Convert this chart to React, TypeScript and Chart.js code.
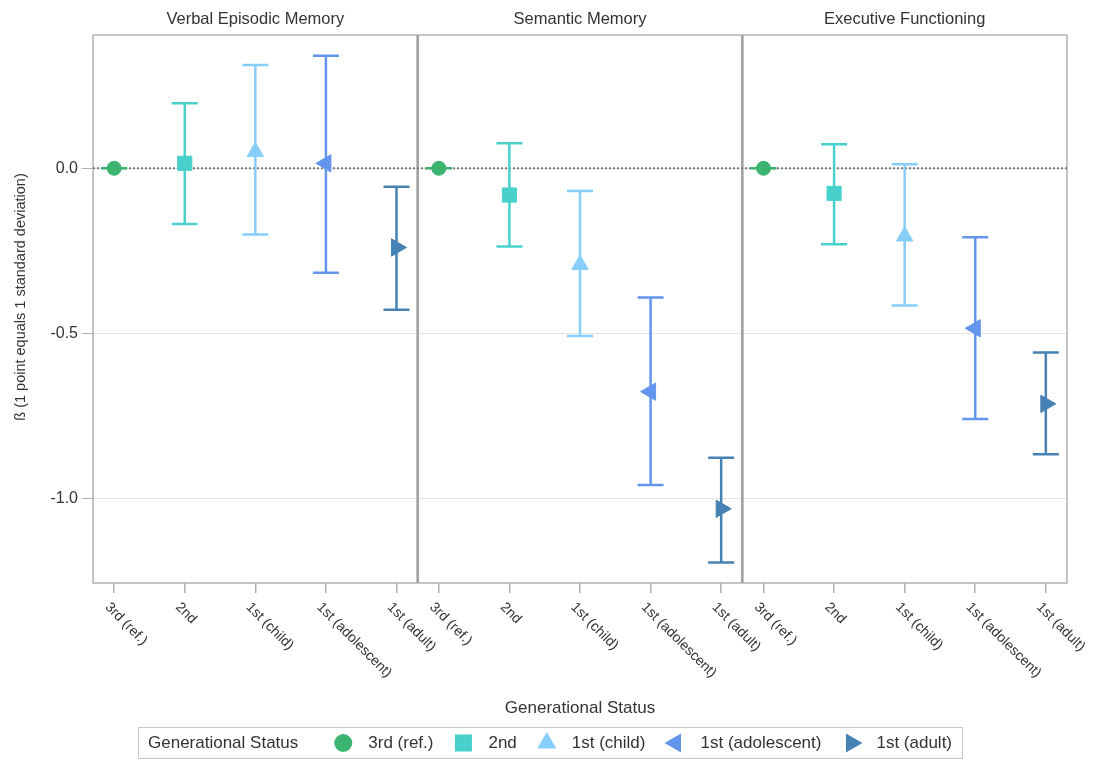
import React, { useEffect, useRef } from 'react';
import { Chart, registerables } from 'chart.js';

Chart.register(...registerables);

const FONT = "'Liberation Sans', Arial, Helvetica, sans-serif";

const panels = ['Verbal Episodic Memory', 'Semantic Memory', 'Executive Functioning'];
const categories = ['3rd (ref.)', '2nd', '1st (child)', '1st (adolescent)', '1st (adult)'];
const colors = ['#3CB371', '#48D1CC', '#87CEFA', '#6495ED', '#4682B4'];
const pointStyles = ['circle', 'rect', 'triangle', 'triangle', 'triangle'];
const pointRotations = [0, 0, 0, -90, 90];
const pointRadii = [7, 10, 9.5, 10, 10];

// Estimates, one value per panel (Verbal, Semantic, Executive)
const est3rd = [0, 0, 0];
const est2nd = [0.015, -0.081, -0.076];
const estChild = [0.05, -0.292, -0.206];
const estAdolescent = [0.015, -0.677, -0.485];
const estAdult = [-0.24, -1.032, -0.714];

// Lower confidence limits
const low3rd = [0, 0, 0];
const low2nd = [-0.169, -0.237, -0.23];
const lowChild = [-0.201, -0.508, -0.416];
const lowAdolescent = [-0.317, -0.96, -0.76];
const lowAdult = [-0.429, -1.195, -0.867];

// Upper confidence limits
const up3rd = [0, 0, 0];
const up2nd = [0.197, 0.076, 0.073];
const upChild = [0.313, -0.069, 0.012];
const upAdolescent = [0.341, -0.392, -0.209];
const upAdult = [-0.056, -0.877, -0.558];

const yTicks = [-1, -0.5, 0];
const yMin = -1.257;
const yMax = 0.404;

const estimates = [est3rd, est2nd, estChild, estAdolescent, estAdult];
const lowers = [low3rd, low2nd, lowChild, lowAdolescent, lowAdult];
const uppers = [up3rd, up2nd, upChild, upAdolescent, upAdult];

const PANEL_STEP = categories.length - 1 + 0.6;
const xPos = (ci: number, pi: number) => ci + pi * PANEL_STEP;
const xMin = -0.3;
const xMax = (panels.length - 1) * PANEL_STEP + categories.length - 1 + 0.3;
const separators = panels.slice(1).map((_, i) => (i + 1) * PANEL_STEP - 0.3);

function shapePath(ctx: CanvasRenderingContext2D, style: string, rot: number, cx: number, cy: number, r: number) {
  ctx.beginPath();
  if (style === 'circle') {
    ctx.arc(cx, cy, r, 0, Math.PI * 2);
  } else if (style === 'rect') {
    ctx.rect(cx - r, cy - r, 2 * r, 2 * r);
  } else {
    let rad = (rot * Math.PI) / 180;
    ctx.moveTo(cx + Math.sin(rad) * r, cy - Math.cos(rad) * r);
    rad += (2 * Math.PI) / 3;
    ctx.lineTo(cx + Math.sin(rad) * r, cy - Math.cos(rad) * r);
    rad += (2 * Math.PI) / 3;
    ctx.lineTo(cx + Math.sin(rad) * r, cy - Math.cos(rad) * r);
    ctx.closePath();
  }
}

const decor = {
  id: 'decor',
  beforeDatasetsDraw(chart: any) {
    const { ctx, chartArea: a, scales } = chart;
    const x = scales.x;
    const y = scales.y;
    ctx.save();
    // frame
    ctx.strokeStyle = '#aeb1b5';
    ctx.lineWidth = 1.5;
    ctx.strokeRect(a.left, a.top, a.right - a.left, a.bottom - a.top);
    // panel separators
    ctx.strokeStyle = '#9a9da2';
    ctx.lineWidth = 2.5;
    separators.forEach((s) => {
      const px = x.getPixelForValue(s);
      ctx.beginPath();
      ctx.moveTo(px, a.top);
      ctx.lineTo(px, a.bottom);
      ctx.stroke();
    });
    // reference line at 0
    const y0 = y.getPixelForValue(0);
    ctx.strokeStyle = '#7a7a7a';
    ctx.lineWidth = 2;
    ctx.setLineDash([2, 2]);
    ctx.beginPath();
    ctx.moveTo(a.left, y0);
    ctx.lineTo(a.right, y0);
    ctx.stroke();
    ctx.setLineDash([]);
    // error bars
    ctx.lineWidth = 2.5;
    const cap = 13;
    categories.forEach((_, ci) => {
      panels.forEach((__, pi) => {
        const px = x.getPixelForValue(xPos(ci, pi));
        const lo = y.getPixelForValue(lowers[ci][pi]);
        const hi = y.getPixelForValue(uppers[ci][pi]);
        ctx.strokeStyle = colors[ci];
        ctx.beginPath();
        ctx.moveTo(px, lo);
        ctx.lineTo(px, hi);
        ctx.moveTo(px - cap, lo);
        ctx.lineTo(px + cap, lo);
        ctx.moveTo(px - cap, hi);
        ctx.lineTo(px + cap, hi);
        ctx.stroke();
      });
    });
    ctx.restore();
  },
  afterDraw(chart: any) {
    const { ctx, chartArea: a, scales } = chart;
    const x = scales.x;
    ctx.save();
    ctx.fillStyle = '#333333';
    // panel titles
    ctx.font = `16.5px ${FONT}`;
    ctx.textAlign = 'center';
    ctx.textBaseline = 'middle';
    const bounds = [xMin, ...separators, xMax];
    panels.forEach((p, pi) => {
      const l = x.getPixelForValue(bounds[pi]);
      const r = x.getPixelForValue(bounds[pi + 1]);
      ctx.fillText(p, (l + r) / 2, 19);
    });
    // x tick labels, rotated
    ctx.font = `14px ${FONT}`;
    ctx.textAlign = 'left';
    ctx.textBaseline = 'middle';
    panels.forEach((_, pi) => {
      categories.forEach((c, ci) => {
        const px = x.getPixelForValue(xPos(ci, pi));
        ctx.save();
        ctx.translate(px - 7, a.bottom + 22);
        ctx.rotate(Math.PI / 4);
        ctx.fillText(c, 0, 0);
        ctx.restore();
      });
    });
    // x axis title
    ctx.font = `17px ${FONT}`;
    ctx.textAlign = 'center';
    ctx.fillText('Generational Status', (a.left + a.right) / 2, 708);
    // y axis title
    ctx.save();
    ctx.font = `14.5px ${FONT}`;
    ctx.translate(21, 297);
    ctx.rotate(-Math.PI / 2);
    ctx.textAlign = 'center';
    ctx.fillText('ß (1 point equals 1 standard deviation)', 0, 0);
    ctx.restore();
    // legend
    const ly = 743;
    ctx.font = `17px ${FONT}`;
    ctx.textAlign = 'left';
    ctx.textBaseline = 'middle';
    const boxLeft = 138;
    let cx = 148;
    ctx.fillText('Generational Status', cx, ly);
    cx += ctx.measureText('Generational Status').width + 45;
    let end = cx;
    const legendR = [9, 8.5, 11, 11, 11];
    categories.forEach((c, ci) => {
      ctx.fillStyle = colors[ci];
      shapePath(ctx, pointStyles[ci], pointRotations[ci], cx, ly, legendR[ci]);
      ctx.fill();
      ctx.fillStyle = '#333333';
      const tx = cx + 25;
      ctx.fillText(c, tx, ly);
      end = tx + ctx.measureText(c).width;
      cx = end + 30;
    });
    ctx.strokeStyle = '#c8c8c8';
    ctx.lineWidth = 1;
    ctx.strokeRect(boxLeft + 0.5, 727.5, end + 10 - boxLeft, 31);
    ctx.restore();
  },
};

export default function App() {
  const ref = useRef<HTMLCanvasElement | null>(null);
  useEffect(() => {
    if (!ref.current) return;
    const datasets = categories.map((c, ci) => ({
      label: c,
      data: panels.map((_, pi) => ({ x: xPos(ci, pi), y: estimates[ci][pi] })),
      backgroundColor: colors[ci],
      borderColor: colors[ci],
      borderWidth: 1,
      pointStyle: pointStyles[ci] as any,
      rotation: pointRotations[ci],
      pointRadius: pointRadii[ci],
      pointHoverRadius: pointRadii[ci],
      showLine: false,
    }));
    const chart = new Chart(ref.current, {
      type: 'scatter',
      data: { datasets },
      options: {
        responsive: false,
        animation: false,
        events: [],
        layout: { padding: { top: 35, right: 30, left: 0, bottom: 0 } },
        plugins: {
          legend: { display: false },
          tooltip: { enabled: false },
          title: { display: false },
        },
        scales: {
          x: {
            type: 'linear',
            min: xMin,
            max: xMax,
            border: { display: false },
            grid: {
              drawOnChartArea: false,
              drawTicks: true,
              tickLength: 10,
              tickColor: '#aeb1b5',
              lineWidth: 1.5,
            },
            ticks: { display: false, autoSkip: false },
            afterBuildTicks: (scale: any) => {
              const t: any[] = [];
              panels.forEach((_, pi) => categories.forEach((__, ci) => t.push({ value: xPos(ci, pi) })));
              scale.ticks = t;
            },
            afterFit: (scale: any) => {
              scale.height = 177;
            },
          },
          y: {
            type: 'linear',
            min: yMin,
            max: yMax,
            border: { display: false },
            grid: {
              color: '#e3e3e3',
              lineWidth: 1,
              drawTicks: true,
              tickLength: 11,
              tickColor: '#aeb1b5',
            },
            ticks: {
              padding: 4,
              color: '#333333',
              font: { family: FONT, size: 16 },
              callback: (v: any) => Number(v).toFixed(1),
            },
            afterBuildTicks: (scale: any) => {
              scale.ticks = yTicks.map((v) => ({ value: v }));
            },
            afterFit: (scale: any) => {
              scale.width = 93;
            },
          },
        },
      },
      plugins: [decor],
    });
    return () => chart.destroy();
  }, []);
  return (
    <div style={{ position: 'fixed', left: 0, top: 0, width: 1097, height: 760, background: '#ffffff' }}>
      <canvas ref={ref} width={1097} height={760} style={{ display: 'block', width: 1097, height: 760 }} />
    </div>
  );
}
